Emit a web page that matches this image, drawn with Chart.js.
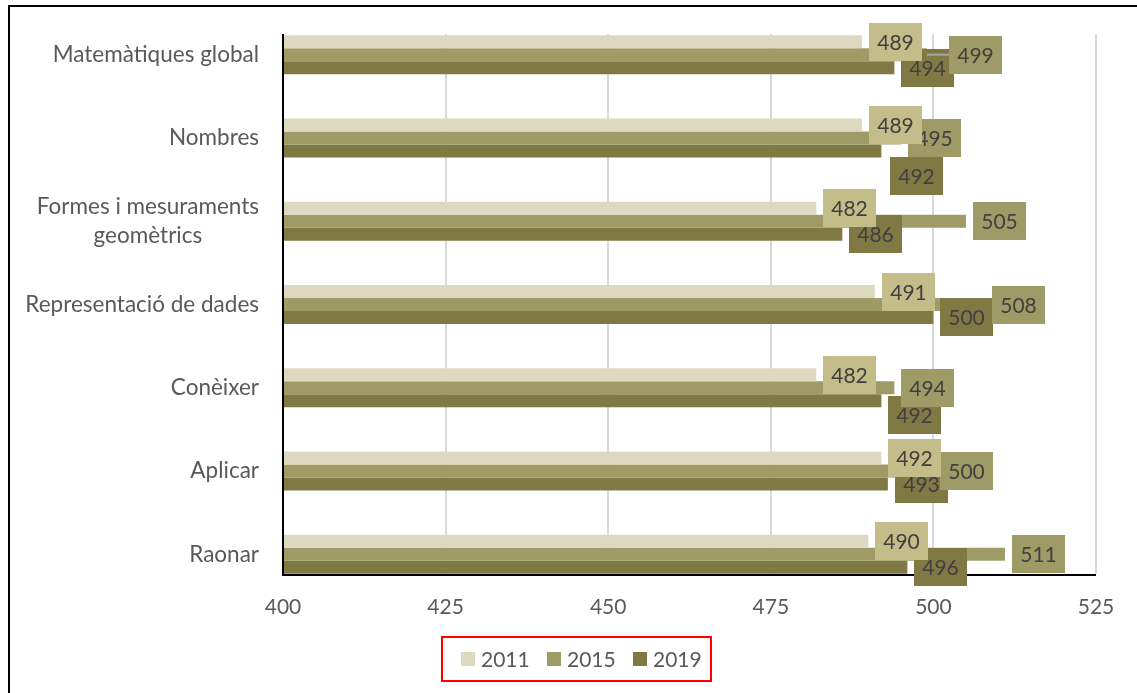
<!DOCTYPE html>
<html><head><meta charset="utf-8">
<script src="https://cdn.jsdelivr.net/npm/chart.js@4/dist/chart.umd.min.js"></script>
<style>html,body{margin:0;padding:0;background:#fff;}canvas{display:block}</style>
</head><body>
<canvas id="c" width="1137" height="693"></canvas>
<script>
// ---- data ----
const categories = [["Matemàtiques global"], ["Nombres"], ["Formes i mesuraments", "geomètrics"], ["Representació de dades"], ["Conèixer"], ["Aplicar"], ["Raonar"]];
const seriesNames = ["2011", "2015", "2019"];
const values2011 = [489, 489, 482, 491, 482, 492, 490];
const values2015 = [499, 495, 505, 508, 494, 500, 511];
const values2019 = [494, 492, 486, 500, 492, 493, 496];
const xTickValues = [400, 425, 450, 475, 500, 525];

// ---- styles ----
const barColors = ["#DDD9C0", "#9E9B66", "#817944"];
const labelBoxColors = ["#C4BD8A", "#9E9B66", "#817944"];
const FONT = 'Lato, "Open Sans", sans-serif';
// manual label nudges (px) as in the original layout
const labelNudges = { "1-0": {dx: 15, dy: 0, leader: true}, "2-1": {dx: 2, dy: 25}, "2-4": {dx: 0, dy: 14} };

const excelLook = {
  id: 'excelLook',
  beforeDraw(chart) {
    const ctx = chart.ctx, xs = chart.scales.x;
    ctx.save();
    ctx.fillStyle = '#fff';
    ctx.fillRect(0, 0, chart.width, chart.height);
    // outer frame (left + top)
    ctx.strokeStyle = '#000'; ctx.lineWidth = 2;
    ctx.beginPath(); ctx.moveTo(9, 693); ctx.lineTo(9, 6); ctx.lineTo(1137, 6); ctx.stroke();
    // vertical gridlines
    ctx.strokeStyle = '#D9D9D9'; ctx.lineWidth = 2;
    xTickValues.forEach((v, k) => {
      if (k === 0) return;
      const px = Math.round(xs.getPixelForValue(v));
      ctx.beginPath(); ctx.moveTo(px, 34); ctx.lineTo(px, 574); ctx.stroke();
    });
    ctx.restore();
  },
  afterDatasetsDraw(chart) {
    const ctx = chart.ctx, xs = chart.scales.x, ys = chart.scales.y;
    const x0 = xs.getPixelForValue(xTickValues[0]);
    ctx.save();
    // axes
    ctx.strokeStyle = '#000'; ctx.lineWidth = 2;
    ctx.beginPath(); ctx.moveTo(x0, 34); ctx.lineTo(x0, 575); ctx.lineTo(xs.getPixelForValue(xTickValues[xTickValues.length - 1]), 575); ctx.stroke();
    // x tick labels
    ctx.fillStyle = '#595959'; ctx.font = '21px ' + FONT;
    ctx.textAlign = 'center'; ctx.textBaseline = 'middle';
    xTickValues.forEach(v => ctx.fillText(String(v), xs.getPixelForValue(v), 607));
    // category labels
    ctx.font = '22.5px ' + FONT;
    categories.forEach((lines, i) => {
      const cy = ys.getPixelForValue(i);
      const w = Math.max(...lines.map(l => ctx.measureText(l).width));
      const cx = 259 - w / 2;
      const lh = 29;
      lines.forEach((l, k) => ctx.fillText(l, cx, cy + (k - (lines.length - 1) / 2) * lh));
    });
    // data labels (drawn last series first)
    ctx.font = '21px ' + FONT;
    [2, 1, 0].forEach(di => {
      const meta = chart.getDatasetMeta(di);
      meta.data.forEach((bar, i) => {
        const n = labelNudges[di + '-' + i] || {dx: 0, dy: 0};
        const bw = 53, bh = 38;
        const bx = Math.round(bar.x + 7 + n.dx), by = Math.round(bar.y - bh / 2 + n.dy);
        if (n.leader) {
          ctx.strokeStyle = '#A6A6A6'; ctx.lineWidth = 2;
          ctx.beginPath(); ctx.moveTo(bar.x, bar.y); ctx.lineTo(bx, bar.y); ctx.stroke();
        }
        ctx.fillStyle = labelBoxColors[di];
        ctx.fillRect(bx, by, bw, bh);
        ctx.fillStyle = '#404040';
        ctx.fillText(String(chart.data.datasets[di].data[i]), bx + bw / 2, by + bh / 2 + 1);
      });
    });
    // legend
    ctx.strokeStyle = '#FF0000'; ctx.lineWidth = 2;
    ctx.strokeRect(442, 637, 269, 44);
    ctx.textAlign = 'left';
    ctx.font = '21px ' + FONT;
    seriesNames.forEach((name, k) => {
      const lx = 461 + k * 86;
      ctx.fillStyle = barColors[k];
      ctx.fillRect(lx, 652, 14, 14);
      ctx.fillStyle = '#595959';
      ctx.fillText(name, lx + 20, 660);
    });
    ctx.restore();
  }
};

new Chart(document.getElementById('c'), {
  type: 'bar',
  data: {
    labels: categories,
    datasets: [values2011, values2015, values2019].map((d, k) => ({
      label: seriesNames[k], data: d, backgroundColor: barColors[k],
      borderWidth: 0, barPercentage: 1, categoryPercentage: 0.468, base: xTickValues[0]
    }))
  },
  options: {
    indexAxis: 'y', responsive: false, animation: false, devicePixelRatio: 1,
    layout: { padding: { left: 283, right: 41, top: 13, bottom: 97 } },
    plugins: { legend: { display: false }, tooltip: { enabled: false } },
    scales: {
      x: { type: 'linear', min: xTickValues[0], max: xTickValues[xTickValues.length - 1], display: false },
      y: { display: false }
    }
  },
  plugins: [excelLook]
});
</script>
</body></html>
